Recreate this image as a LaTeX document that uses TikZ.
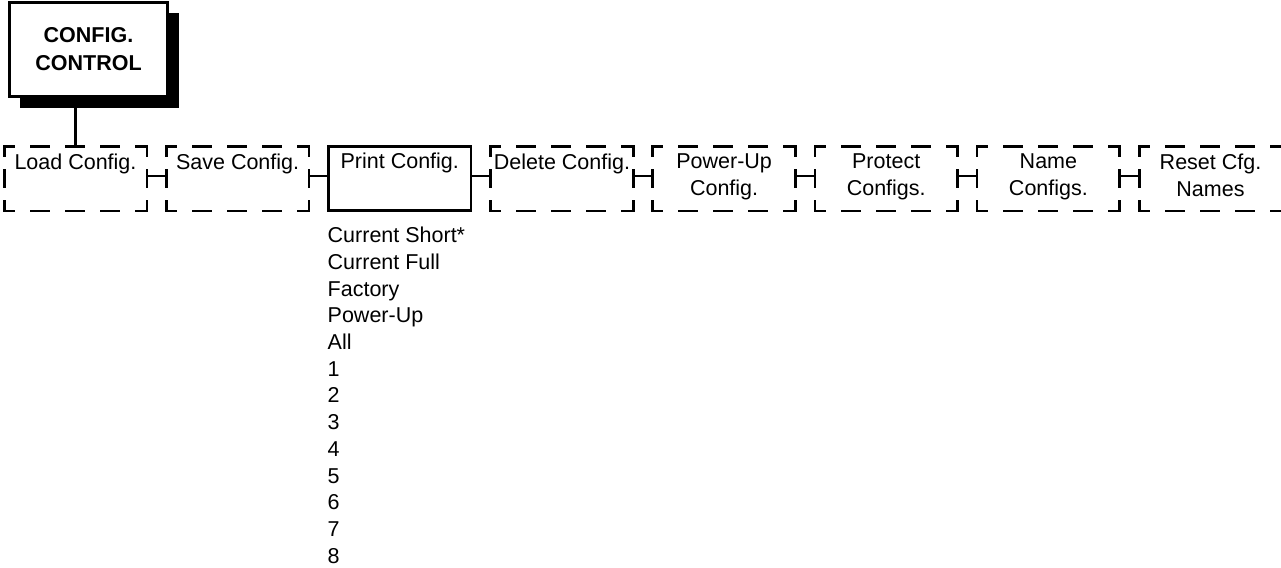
\documentclass[tikz,border=0pt]{standalone}
\usepackage{fontspec}
\setmainfont{Liberation Sans}
\usetikzlibrary{positioning,shadows}

\begin{document}
\begin{tikzpicture}[
  x=1pt,
  y=-1pt,
  font=\fontsize{21.5}{27}\selectfont,
  titlebox/.style={draw, fill=white, line width=2.7pt, align=center,
    minimum width=158.3pt, minimum height=94.3pt, inner sep=0pt,
    font=\fontsize{21.5}{28}\selectfont\bfseries,
    drop shadow={shadow xshift=11pt, shadow yshift=-11pt, fill=black, opacity=1}},
  menubox/.style={minimum width=142.3pt, minimum height=64.3pt, inner sep=0pt},
  solidbox/.style={menubox, draw, line width=2.7pt},
  boxlabel/.style={anchor=north, align=center, inner sep=0pt, yshift=-7.5pt},
  dashtop/.style={line width=2.7pt, line cap=rect,
    dash pattern=on 17.3pt off 17.7pt, dash phase=8pt},
  dashside/.style={line width=2.7pt, line cap=rect,
    dash pattern=on 16.3pt off 14.7pt, dash phase=7pt},
  link/.style={draw, line width=2.7pt}
]
\useasboundingbox (0,0) rectangle (1281,567);

% Top menu
\node[titlebox] (config) at (88.5,49.5) {CONFIG.\\CONTROL};

% Sub menus
\node[menubox, label={[boxlabel]north:Load Config.}] (load) at (75.5,178.5) {};
\node[menubox, label={[boxlabel]north:Save Config.}] (save) at (237.6,178.5) {};
\node[solidbox, label={[boxlabel]north:Print Config.}] (print) at (399.8,178.5) {};
\node[menubox, label={[boxlabel]north:Delete Config.}] (delete) at (562.0,178.5) {};
\node[menubox, label={[boxlabel]north:{Power-Up\\Config.}}] (powerup) at (724.1,178.5) {};
\node[menubox, label={[boxlabel]north:{Protect\\Configs.}}] (protect) at (886.2,178.5) {};
\node[menubox, label={[boxlabel]north:{Name\\Configs.}}] (name) at (1048.4,178.5) {};
\node[menubox, label={[boxlabel]north:{Reset Cfg.\\Names}}] (reset) at (1210.5,178.5) {};

% Dashed frames
\foreach \b in {load,save,delete,powerup,protect,name,reset} {
  \draw[dashtop] (\b.north west) -- (\b.north east);
  \draw[dashtop] (\b.south west) -- (\b.south east);
  \draw[dashside] (\b.north west) -- (\b.south west);
  \draw[dashside] (\b.north east) -- (\b.south east);
}

% Connectors
\draw[link] (load.north) -- (load.north |- config.south);
\draw[link] ([yshift=2.5pt]load.east) -- ([yshift=2.5pt]save.west);
\draw[link] ([yshift=2.5pt]save.east) -- ([yshift=2.5pt]print.west);
\draw[link] ([yshift=2.5pt]print.east) -- ([yshift=2.5pt]delete.west);
\draw[link] ([yshift=2.5pt]delete.east) -- ([yshift=2.5pt]powerup.west);
\draw[link] ([yshift=2.5pt]powerup.east) -- ([yshift=2.5pt]protect.west);
\draw[link] ([yshift=2.5pt]protect.east) -- ([yshift=2.5pt]name.west);
\draw[link] ([yshift=2.5pt]name.east) -- ([yshift=2.5pt]reset.west);

% Print options
\node[anchor=north west, align=left, inner sep=0pt,
      font=\fontsize{21.5}{26.7}\selectfont] (printopts) at (327.5,227)
      {Current Short*\\Current Full\\Factory\\Power-Up\\All\\1\\2\\3\\4\\5\\6\\7\\8};
\end{tikzpicture}
\end{document}
